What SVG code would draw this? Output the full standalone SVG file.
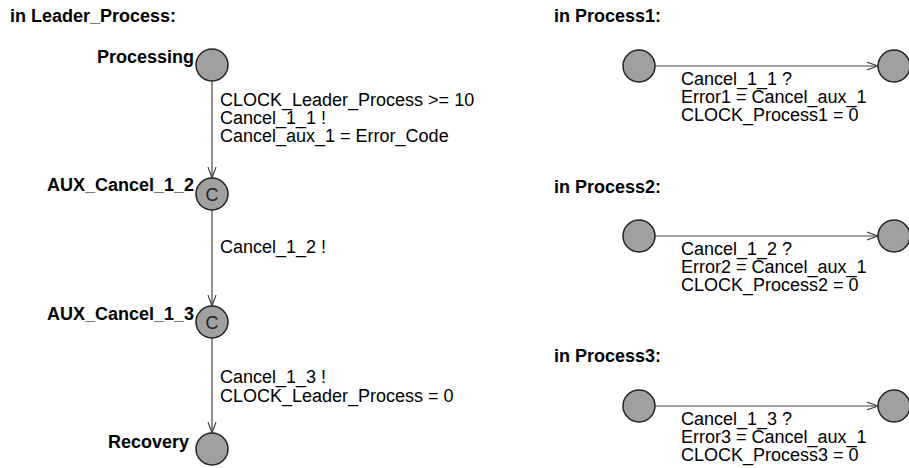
<svg xmlns="http://www.w3.org/2000/svg" width="909" height="468" viewBox="0 0 909 468">
  <defs>
    <marker id="open" viewBox="0 0 12 10" refX="11" refY="5" markerWidth="12" markerHeight="10" markerUnits="userSpaceOnUse" orient="auto">
      <path d="M0,1 L11,5 L0,9" fill="none" stroke="#444" stroke-width="1.2"/>
    </marker>
  </defs>
  <style>
    .loc { fill: #a0a0a0; stroke: #222; stroke-width: 1.5; }
    .head { font-family: "Liberation Sans", Arial, sans-serif; font-weight: bold; font-size: 18px; fill: #000; }
    .name { font-family: "Liberation Sans", Arial, sans-serif; font-weight: bold; font-size: 18px; fill: #000; text-anchor: end; }
    .lbl { font-family: "Liberation Sans", Arial, sans-serif; font-size: 18px; fill: #000; }
    .c { font-family: "Liberation Sans", Arial, sans-serif; font-size: 18px; fill: #222; text-anchor: middle; }
    .edge { fill: none; stroke: #444; stroke-width: 1.2; marker-end: url(#open); }
  </style>
  <rect width="909" height="468" fill="#fff"/>

  <!-- template headings -->
  <text class="head" x="10" y="22">in Leader_Process:</text>
  <text class="head" x="554" y="22">in Process1:</text>
  <text class="head" x="554" y="193">in Process2:</text>
  <text class="head" x="554" y="362">in Process3:</text>

  <!-- transitions -->
  <g id="edges">
    <path class="edge" d="M212,81 V178"/>
    <path class="edge" d="M212,210 V306"/>
    <path class="edge" d="M212,338 V433"/>
    <path class="edge" d="M655,66 H878"/>
    <path class="edge" d="M655,236 H878"/>
    <path class="edge" d="M655,406 H878"/>
    <text class="lbl" x="220" y="106">CLOCK_Leader_Process &gt;= 10</text>
    <text class="lbl" x="220" y="124">Cancel_1_1 !</text>
    <text class="lbl" x="220" y="142">Cancel_aux_1 = Error_Code</text>
    <text class="lbl" x="220" y="253">Cancel_1_2 !</text>
    <text class="lbl" x="220" y="383">Cancel_1_3 !</text>
    <text class="lbl" x="220" y="402">CLOCK_Leader_Process = 0</text>
    <text class="lbl" x="681" y="85">Cancel_1_1 ?</text>
    <text class="lbl" x="681" y="103">Error1 = Cancel_aux_1</text>
    <text class="lbl" x="681" y="121">CLOCK_Process1 = 0</text>
    <text class="lbl" x="681" y="255">Cancel_1_2 ?</text>
    <text class="lbl" x="681" y="273">Error2 = Cancel_aux_1</text>
    <text class="lbl" x="681" y="291">CLOCK_Process2 = 0</text>
    <text class="lbl" x="681" y="424.5">Cancel_1_3 ?</text>
    <text class="lbl" x="681" y="442.5">Error3 = Cancel_aux_1</text>
    <text class="lbl" x="681" y="461">CLOCK_Process3 = 0</text>
  </g>

  <!-- Leader_Process locations -->
  <g id="processing">
    <circle class="loc" cx="212" cy="65" r="16"/>
    <text class="name" x="194" y="63">Processing</text>
  </g>
  <g id="aux_cancel_1_2">
    <circle class="loc" cx="212" cy="194" r="16"/>
    <text class="c" x="212" y="200.5">C</text>
    <text class="name" x="194" y="191">AUX_Cancel_1_2</text>
  </g>
  <g id="aux_cancel_1_3">
    <circle class="loc" cx="212" cy="322" r="16"/>
    <text class="c" x="212" y="328.5">C</text>
    <text class="name" x="194" y="320">AUX_Cancel_1_3</text>
  </g>
  <g id="recovery">
    <circle class="loc" cx="212" cy="449" r="16"/>
    <text class="name" x="189" y="448">Recovery</text>
  </g>

  <!-- Process1..3 locations -->
  <g id="p1_start"><circle class="loc" cx="639" cy="66" r="16"/></g>
  <g id="p1_end"><circle class="loc" cx="894" cy="66" r="16"/></g>
  <g id="p2_start"><circle class="loc" cx="639" cy="236" r="16"/></g>
  <g id="p2_end"><circle class="loc" cx="894" cy="236" r="16"/></g>
  <g id="p3_start"><circle class="loc" cx="639" cy="406" r="16"/></g>
  <g id="p3_end"><circle class="loc" cx="894" cy="406" r="16"/></g>
</svg>
